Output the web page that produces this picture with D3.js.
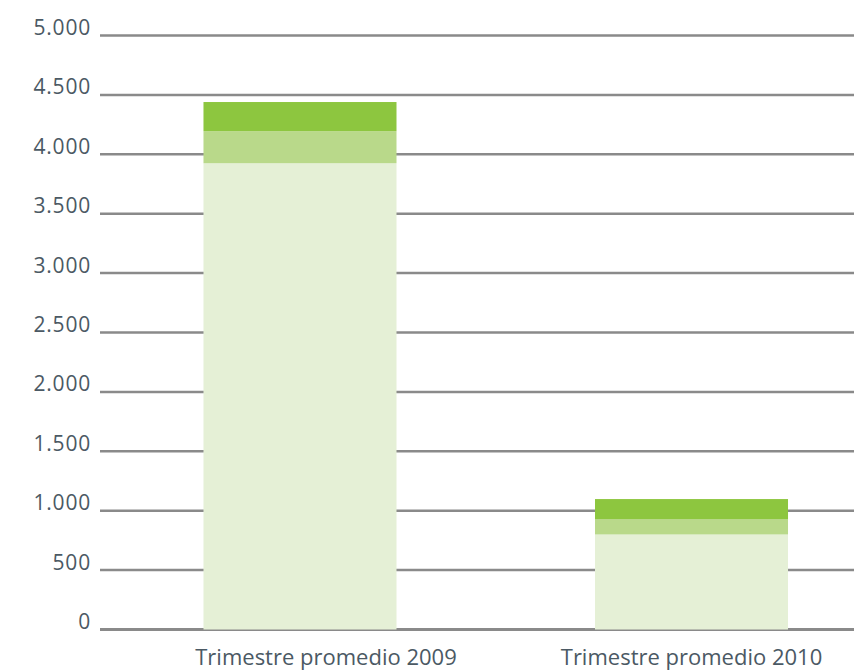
<!DOCTYPE html>
<html><head><meta charset="utf-8">
<script src="https://cdn.jsdelivr.net/npm/d3@7"></script>
<style>body{margin:0;background:#fff}svg{display:block}</style>
</head><body>
<script>
const categories = ["Trimestre promedio 2009", "Trimestre promedio 2010"];
const seriesNames = ["base", "medio", "superior"];
const baseValues = [3925, 800];
const midValues = [270, 130];
const topValues = [245, 168];
const yTicks = [0, 500, 1000, 1500, 2000, 2500, 3000, 3500, 4000, 4500, 5000];
const colors = ["#e5f0d6", "#b9d98a", "#8dc63f"];

const W = 854, H = 670;
const FONT = "'Open Sans', Lato, sans-serif";
const labelShift = [26, 0];
const svg = d3.select("body").append("svg").attr("width", W).attr("height", H);
const y = d3.scaleLinear().domain([0, 5000]).range([629.5, 35.5]);
const x = d3.scaleBand().domain(categories).range([105.6, 885.9]).paddingInner(0.507).paddingOuter(0.25);

const fmt = v => d3.format(",")(v).replace(/,/g, ".");

const grid = svg.append("g");
grid.selectAll("line").data(yTicks).join("line")
  .attr("x1", 100).attr("x2", W)
  .attr("y1", d => y(d)).attr("y2", d => y(d))
  .attr("stroke", "#8a8a8a").attr("stroke-width", d => d === 0 ? 3 : 2.5);
grid.selectAll("text").data(yTicks).join("text")
  .attr("x", 91).attr("y", d => y(d) - 0.5)
  .attr("text-anchor", "end")
  .attr("font-family", FONT).attr("font-size", 21)
  .attr("letter-spacing", 0.8)
  .attr("fill", "#4b5964")
  .text(fmt);

const data = categories.map((c, i) => ({cat: c, base: baseValues[i], medio: midValues[i], superior: topValues[i]}));
const stack = d3.stack().keys(seriesNames)(data);
svg.append("g").selectAll("g").data(stack).join("g")
  .attr("fill", (d, i) => colors[i])
  .selectAll("rect").data(d => d).join("rect")
  .attr("x", d => x(d.data.cat))
  .attr("width", x.bandwidth())
  .attr("y", d => y(d[1]))
  .attr("height", d => y(d[0]) - y(d[1]));

svg.append("g").selectAll("text").data(categories).join("text")
  .attr("x", (d, i) => x(d) + x.bandwidth() / 2 + labelShift[i]).attr("y", 665)
  .attr("text-anchor", "middle")
  .attr("font-family", FONT).attr("font-size", 22)
  .attr("fill", "#4b5964")
  .text(d => d);
</script>
</body></html>
